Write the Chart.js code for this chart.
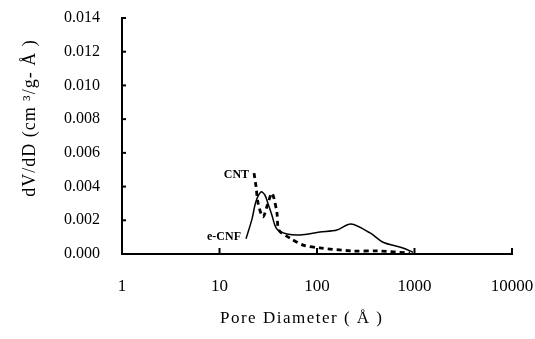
<!DOCTYPE html>
<html lang="en">
<head>
    <meta charset="UTF-8">
    <title>Pore size distribution</title>
    <script src="https://cdn.jsdelivr.net/npm/chart.js"></script>
    <style>
        body { margin: 0; background: #fff; }
        #wrap { width: 535px; height: 339px; }
    </style>
</head>
<body>
<div id="wrap"><canvas id="psd" width="535" height="339"></canvas></div>
<script>
    // e-CNF (solid)
    const cnfD = [18.7, 21.6, 23.6, 26.7, 29.2, 31.4, 34.5, 37, 39.8, 49.2, 67, 107, 160, 223, 350, 475, 760, 966];
    const cnfV = [0.0009, 0.0021, 0.0031, 0.00368, 0.0035, 0.003, 0.0023, 0.0017, 0.00142, 0.00119, 0.00113, 0.0013, 0.00142, 0.00178, 0.00125, 0.0007, 0.00036, 0.0001];
    // CNT (dashed)
    const cntD = [22.6, 23.7, 24.9, 27.9, 31, 34.5, 38.7, 40.8, 52.7, 72, 107, 233, 415, 900];
    const cntV = [0.0048, 0.004, 0.003, 0.0022, 0.0029, 0.0036, 0.0025, 0.0014, 0.00095, 0.00053, 0.00036, 0.00018, 0.00018, 0.00006];
    const xTicks = [1, 10, 100, 1000, 10000];
    const seriesLabels = [
        { text: 'CNT', d: 20.1, v: 0.0047 },
        { text: 'e-CNF', d: 16.6, v: 0.001 }
    ];

    const toPts = (xs, ys) => xs.map((x, i) => ({ x: x, y: ys[i] }));
    const serif = '"Liberation Serif", "Times New Roman", serif';

    const extras = {
        id: 'extras',
        afterDraw(chart) {
            const ctx = chart.ctx;
            const xs = chart.scales.x, ys = chart.scales.y;
            ctx.save();
            ctx.strokeStyle = '#000';
            ctx.lineWidth = 2;
            // inward tick marks
            ys.ticks.forEach(t => {
                const py = ys.getPixelForValue(t.value);
                ctx.beginPath();
                ctx.moveTo(xs.left, py);
                ctx.lineTo(xs.left + 4, py);
                ctx.stroke();
            });
            xTicks.forEach(v => {
                const px = xs.getPixelForValue(v);
                ctx.beginPath();
                ctx.moveTo(px, ys.bottom);
                ctx.lineTo(px, ys.bottom - 6);
                ctx.stroke();
            });
            // curve labels
            ctx.fillStyle = '#000';
            ctx.font = 'bold 12px ' + serif;
            ctx.textAlign = 'right';
            ctx.textBaseline = 'middle';
            seriesLabels.forEach(l => {
                ctx.fillText(l.text, xs.getPixelForValue(l.d), ys.getPixelForValue(l.v));
            });
            // axis titles
            ctx.textAlign = 'left';
            ctx.font = '17px ' + serif;
            ctx.letterSpacing = '1.5px';
            ctx.fillText('Pore Diameter ( \u00C5 )', 220, 319);
            ctx.textAlign = 'center';
            ctx.font = '18px ' + serif;
            ctx.letterSpacing = '1px';
            ctx.translate(30, 118);
            ctx.rotate(-Math.PI / 2);
            ctx.fillText('dV/dD (cm \u00B3/g- \u00C5 )', 0, 0);
            ctx.restore();
        }
    };

    new Chart(document.getElementById('psd'), {
        type: 'scatter',
        data: {
            datasets: [
                {
                    label: 'e-CNF',
                    data: toPts(cnfD, cnfV),
                    showLine: true,
                    borderColor: '#000',
                    borderWidth: 1.5,
                    pointRadius: 0,
                    tension: 0.3
                },
                {
                    label: 'CNT',
                    data: toPts(cntD, cntV),
                    showLine: true,
                    borderColor: '#000',
                    borderWidth: 2.8,
                    borderDash: [5, 4],
                    pointRadius: 0,
                    tension: 0.3
                }
            ]
        },
        options: {
            responsive: false,
            animation: false,
            layout: { padding: { top: 18, right: 23, left: 0, bottom: 0 } },
            plugins: { legend: { display: false }, tooltip: { enabled: false } },
            scales: {
                x: {
                    type: 'logarithmic',
                    min: 1,
                    max: 10000,
                    afterBuildTicks: s => { s.ticks = xTicks.map(v => ({ value: v })); },
                    afterFit: s => { s.height = 85; s.paddingLeft = 0; s.paddingRight = 0; },
                    grid: { display: false },
                    border: { color: '#000', width: 2 },
                    ticks: {
                        color: '#000',
                        font: { family: serif, size: 17 },
                        padding: 14,
                        maxRotation: 0,
                        callback: v => String(v)
                    }
                },
                y: {
                    min: 0,
                    max: 0.014,
                    afterFit: s => { s.width = 122; s.paddingTop = 0; s.paddingBottom = 0; },
                    grid: { display: false },
                    border: { color: '#000', width: 2 },
                    ticks: {
                        stepSize: 0.002,
                        color: '#000',
                        font: { family: serif, size: 16 },
                        padding: 14,
                        callback: v => v.toFixed(3)
                    }
                }
            }
        },
        plugins: [extras]
    });
</script>
</body>
</html>
